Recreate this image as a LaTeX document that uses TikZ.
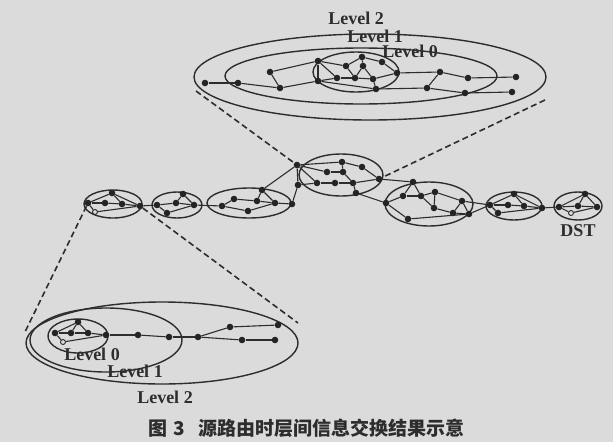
\documentclass[tikz,border=0pt]{standalone}
\usepackage{fontspec}
\setmainfont{Liberation Serif}
\newfontfamily\cjk{Noto Sans CJK SC}
\definecolor{paper}{RGB}{219,219,219}
\definecolor{ink}{RGB}{45,45,45}
\tikzset{
  dot/.style={circle, fill=ink!80!black, inner sep=0pt, minimum size=6.6pt},
  hollow/.style={circle, draw=ink, fill=paper, line width=0.9pt, inner sep=0pt, minimum size=5pt},
  link/.style={draw=ink, line width=1.1pt},
  ring/.style={draw=ink, line width=1.4pt},
  zoomline/.style={draw=ink, line width=1.6pt, dash pattern=on 6pt off 3.5pt},
  lvl/.style={font=\fontsize{18}{18}\selectfont\bfseries, text=ink, inner sep=0pt},
}
\begin{document}
\begin{tikzpicture}[x=1pt,y=-1pt]
\fill[paper] (0,0) rectangle (613,442);
\useasboundingbox (0,0) rectangle (613,442);

% ---------- upper enlarged view ----------
\draw[ring] (370,77) ellipse [x radius=176pt, y radius=43pt];
\draw[ring] (361,76) ellipse [x radius=136pt, y radius=28pt];
\draw[ring] (356,72) ellipse [x radius=43pt, y radius=20pt];
\node[lvl] (u2) at (356,18) {Level 2};
\node[lvl] (u1) at (375,36) {Level 1};
\node[lvl] (u0) at (410,51) {Level 0};

\foreach \n/\x/\y in {a1/205/83, a2/238/83, a3/270/72, a4/280/88, a5/318/61,
  a6/318/81, a7/337/78, a8/346/66, a9/362/57, a10/363/66, a11/382/62,
  a12/355/78, a13/373/79, a14/397/73, a15/376/89, a16/427/88, a17/440/72,
  a18/468/78, a19/465/93, a20/516/77, a21/512/92}
  \node[dot] (\n) at (\x,\y) {};
\foreach \u/\v in {a1/a2, a2/a4, a3/a4, a3/a5, a4/a6, a5/a6, a5/a7, a6/a7,
  a7/a12, a5/a8, a8/a9, a8/a12, a9/a10, a9/a11, a10/a12, a10/a13, a11/a14,
  a12/a13, a13/a14, a13/a15, a6/a15, a14/a17, a15/a16, a16/a17, a17/a18,
  a18/a20, a16/a19, a19/a21}
  \draw[link] (\u) -- (\v);

% ---------- route chain ----------
\draw[ring] (113,204) ellipse [x radius=29pt, y radius=14pt];
\draw[ring] (177,205) ellipse [x radius=25pt, y radius=13pt];
\draw[ring] (249,203) ellipse [x radius=42pt, y radius=15pt];
\draw[ring] (341,175) ellipse [x radius=42pt, y radius=21pt];
\draw[ring] (429,204) ellipse [x radius=44pt, y radius=22pt];
\draw[ring] (514,206) ellipse [x radius=28pt, y radius=14pt];
\draw[ring] (578,206) ellipse [x radius=24pt, y radius=14pt];

\foreach \n/\x/\y in {c1a/88/203, c1b/112/193, c1c/105/203, c1d/122/204, c1e/140/206,
  c2a/157/205, c2b/183/194, c2c/176/203, c2d/194/205, c2e/167/213,
  c3a/222/206, c3b/234/199, c3c/248/211, c3d/257/201, c3e/262/190, c3f/275/203, c3g/292/204,
  d1/297/165, d2/298/185, d3/342/162, d4/362/167, d5/327/172, d6/343/172,
  d7/317/183, d8/335/183, d9/353/183, d10/379/179, d11/356/193,
  e1/413/182, e2/386/203, e3/403/196, e4/421/196, e5/435/192, e6/434/208,
  e7/462/201, e8/453/213, e9/469/214, e10/408/219,
  f1/490/205, f2/514/194, f3/508/205, f4/524/206, f5/498/213, f6/542/208,
  g1/559/207, g2/585/194, g3/578/206, g4/597/207}
  \node[dot] (\n) at (\x,\y) {};
\node[hollow] (c1o) at (95,212) {};
\node[hollow] (go) at (571,213) {};

\foreach \u/\v in {c1a/c1b, c1a/c1c, c1c/c1d, c1b/c1d, c1b/c1e, c1d/c1e, c1a/c1o, c1o/c1e,
  c1e/c2a,
  c2a/c2c, c2c/c2b, c2b/c2d, c2c/c2d, c2a/c2e, c2e/c2d,
  c2d/c3a,
  c3a/c3b, c3b/c3d, c3a/c3c, c3c/c3f, c3d/c3e, c3e/c3f, c3d/c3f, c3f/c3g,
  c3e/d1, c3g/d2,
  d1/d2, d1/d5, d1/d7, d1/d3, d2/d7, d7/d8, d8/d9, d9/d10, d5/d6, d3/d6, d3/d4,
  d4/d10, d6/d9, d9/d11,
  d10/e1, d11/e2,
  e1/e3, e1/e4, e2/e3, e3/e4, e4/e6, e4/e5, e5/e7, e6/e8, e7/e8, e7/e9, e8/e9,
  e2/e10, e10/e9, e5/e6,
  e7/f1, e9/f1,
  f1/f2, f1/f3, f3/f4, f2/f4, f1/f5, f5/f6, f4/f6, f2/f6,
  f6/g1,
  g1/g2, g1/g3, g3/g4, g2/g4, g1/go, go/g4, g2/g3}
  \draw[link] (\u) -- (\v);
\node[lvl] (dst) at (578,231) {DST};

% ---------- lower enlarged view ----------
\draw[ring] (162,343) ellipse [x radius=136pt, y radius=41pt];
\draw[ring] (106,340) ellipse [x radius=76pt, y radius=32pt];
\draw[ring] (78,336) ellipse [x radius=30pt, y radius=17pt];
\foreach \n/\x/\y in {b1/55/333, b2/78/322, b3/71/333, b4/88/333, b5/106/335,
  b6/138/335, b7/169/337, b8/198/337, b9/230/327, b10/278/325, b11/242/340, b12/275/340}
  \node[dot] (\n) at (\x,\y) {};
\node[hollow] (bo) at (63,342) {};
\foreach \u/\v in {b1/b2, b1/b3, b2/b3, b3/b4, b2/b4, b4/b5, b1/bo, bo/b5,
  b5/b6, b6/b7, b7/b8, b8/b9, b9/b10, b8/b11, b11/b12}
  \draw[link] (\u) -- (\v);
\node[lvl] (l0) at (92,354) {Level 0};
\node[lvl] (l1) at (135,371) {Level 1};
\node[lvl] (l2) at (165,397) {Level 2};

% ---------- projection lines ----------
\coordinate (ul) at (196,91);
\coordinate (ur) at (545,100);
\coordinate (ll) at (24,334);
\coordinate (lr) at (298,323);
\draw[zoomline] (ul) -- (d1);
\draw[zoomline] (ur) -- (d10);
\draw[zoomline] (c1a) -- (ll);
\draw[zoomline] (c1e) -- (lr);

% ---------- caption ----------
\node[font=\cjk\fontsize{19}{19}\selectfont\bfseries, text=ink, anchor=west, inner sep=0pt]
  (cap) at (148,428) {图\hspace{6pt}3\hspace{14pt}源路由时层间信息交换结果示意};
\end{tikzpicture}
\end{document}
